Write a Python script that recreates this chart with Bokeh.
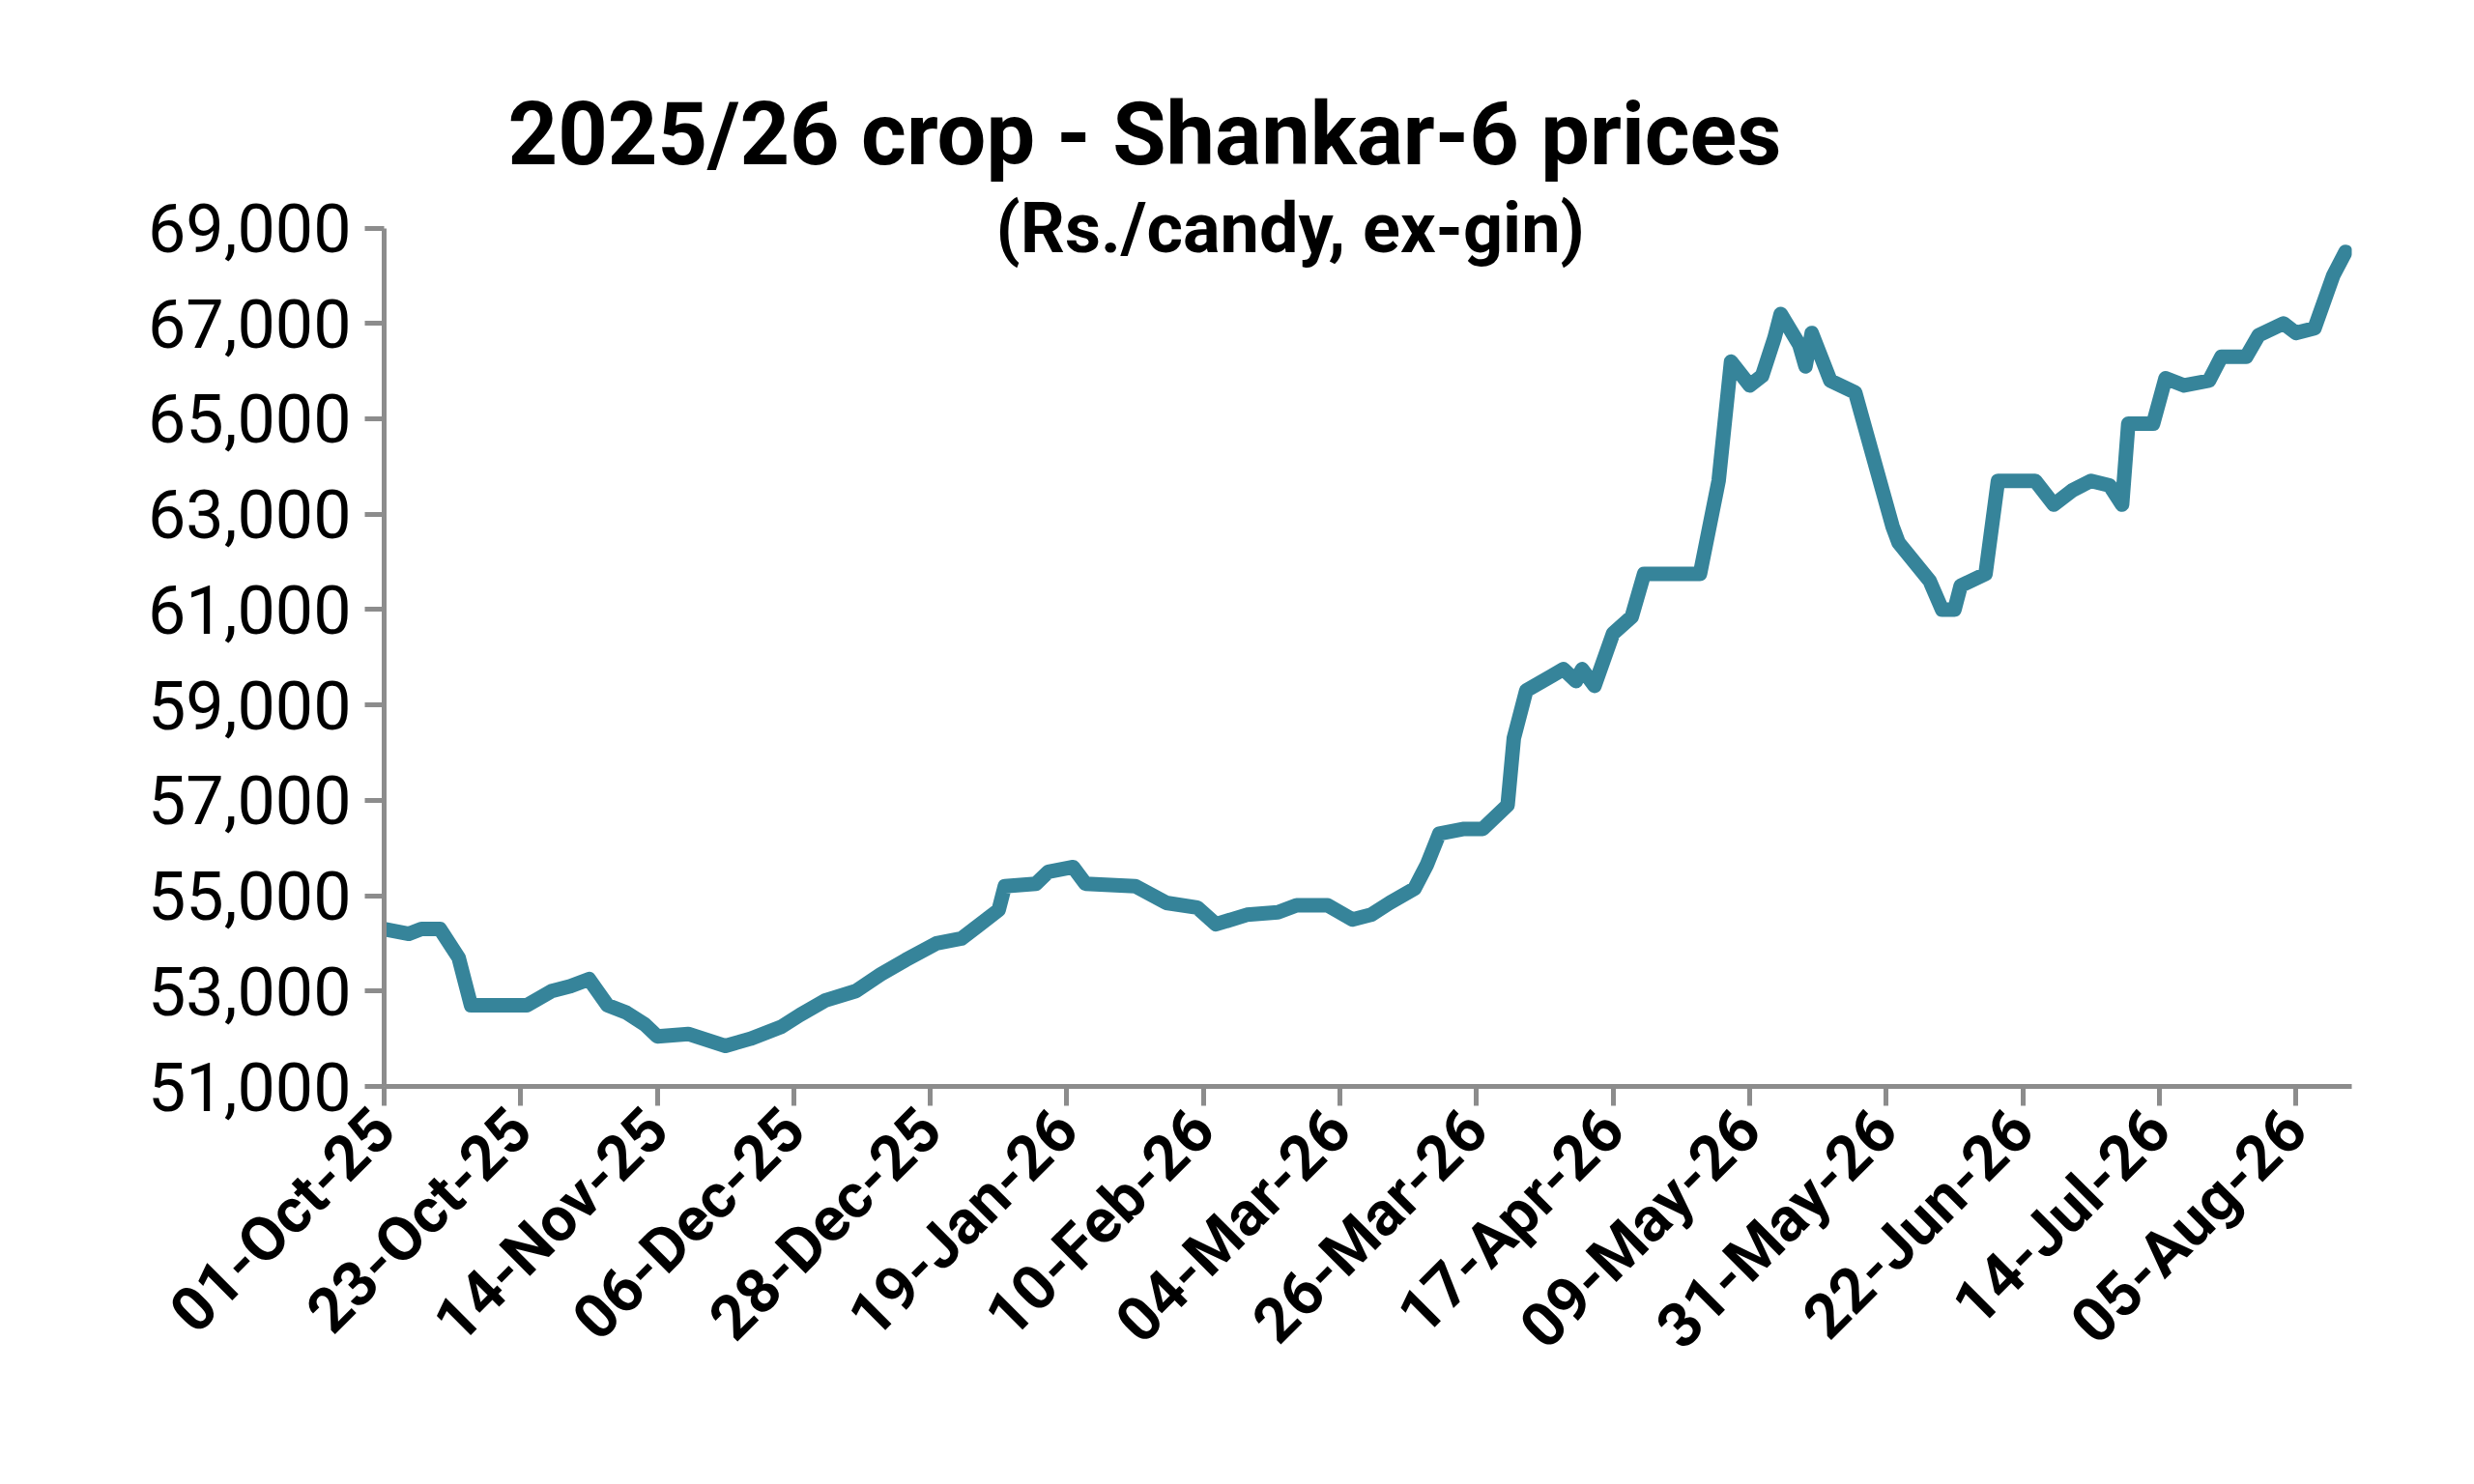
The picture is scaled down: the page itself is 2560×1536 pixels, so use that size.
from bokeh.plotting import figure
from bokeh.models import FixedTicker, Label, NumeralTickFormatter
from bokeh.embed import file_html
from bokeh.resources import INLINE
import math

# days since 01-Oct-25
days = [0,4,6,9,12,14,23,27,30,33,36,39,42,44,49,55,59,64,67,71,76,80,84,89,93,96,99,100,105,107,111,113,121,126,131,134,139,144,147,152,156,159,162,166,168,170,174,177,181,182,184,188,190,192,193,195,198,201,203,212,215,217,220,222,224,225,228,229,230,233,237,243,244,249,251,253,254,258,260,266,269,272,275,278,280,281,285,287,290,294,296,300,302,306,308,311,314,316]
prices = [54300,54200,54300,54300,53700,52700,52700,53000,53100,53250,52700,52550,52300,52050,52100,51850,52000,52250,52500,52800,53000,53350,53650,54000,54100,54400,54700,55200,55250,55500,55600,55250,55200,54850,54750,54400,54600,54650,54800,54800,54500,54600,54850,55150,55650,56300,56400,56400,56900,58300,59300,59600,59750,59500,59750,59400,60500,60850,61750,61750,63700,66200,65700,65900,66700,67200,66550,66100,66800,65800,65550,62750,62400,61600,61000,61000,61500,61750,63700,63700,63200,63500,63700,63600,63200,64900,64900,65850,65700,65800,66300,66300,66750,67000,66800,66900,68000,68500]
tick_days = [0,22,44,66,88,110,132,154,176,198,220,242,264,286,308]
tick_labels = ["01-Oct-25","23-Oct-25","14-Nov-25","06-Dec-25","28-Dec-25","19-Jan-26","10-Feb-26","04-Mar-26","26-Mar-26","17-Apr-26","09-May-26","31-May-26","22-Jun-26","14-Jul-26","05-Aug-26"]
y_ticks = list(range(51000, 69001, 2000))

p = figure(width=2544, height=1520, output_backend="svg", toolbar_location=None,
           x_range=(0, 317), y_range=(51000, 69700),
           min_border_left=397, min_border_right=111, min_border_top=201, min_border_bottom=396,
           title="2025/26 crop - Shankar-6 prices")
p.outline_line_color = None
p.grid.visible = False
p.background_fill_color = "white"
p.title.align = "left"
p.title.offset = 128
p.title.text_font = "Roboto"
p.title.text_font_style = "bold"
p.title.text_font_size = "90px"
p.title.text_color = "black"
p.title.standoff = 20

p.line(days, prices, line_color="#36849A", line_width=15, line_join="round", line_cap="round")

for ax in (p.xaxis[0], p.yaxis[0]):
    ax.axis_line_color = "#8C8C8C"
    ax.axis_line_width = 5
    ax.major_tick_line_color = "#8C8C8C"
    ax.major_tick_line_width = 5
    ax.major_tick_in = 0
    ax.major_tick_out = 20
    ax.minor_tick_line_color = None
    ax.major_label_text_color = "black"
    ax.major_label_standoff = 14

p.xaxis.ticker = FixedTicker(ticks=tick_days)
p.xaxis.major_label_overrides = {d: l for d, l in zip(tick_days, tick_labels)}
p.xaxis.major_label_orientation = math.pi / 4
p.xaxis.major_label_text_font = "Roboto"
p.xaxis.major_label_text_font_style = "bold"
p.xaxis.major_label_text_font_size = "64px"

p.yaxis.ticker = FixedTicker(ticks=y_ticks)
p.yaxis.bounds = (51000, 69000)
p.yaxis.formatter = NumeralTickFormatter(format="0,0")
p.yaxis.major_label_text_font = "Roboto"
p.yaxis.major_label_text_font_size = "70px"

p.add_layout(Label(x=146, y=69000, text="(Rs./candy, ex-gin)", text_align="center",
                   text_baseline="middle", text_font="Roboto", text_font_style="bold",
                   text_font_size="72px", text_color="black"))

open("out.html", "w").write(file_html(p, INLINE))
